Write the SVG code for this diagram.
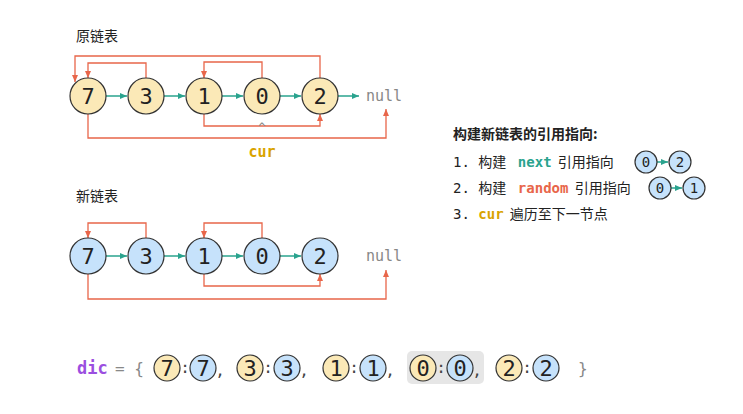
<svg xmlns="http://www.w3.org/2000/svg" width="743" height="414" viewBox="0 0 743 414">
<style>
.t{font-family:"Noto Sans CJK SC","Noto Sans",sans-serif;font-size:14px;fill:#222;white-space:pre}
.m{font-family:"DejaVu Sans Mono",monospace}
.n{font-family:"DejaVu Sans Mono",monospace;font-size:22px;fill:#222;text-anchor:middle;dominant-baseline:central}
.s{font-family:"DejaVu Sans Mono",monospace;font-size:14px;fill:#222;text-anchor:middle;dominant-baseline:central}
.y{fill:#fbe9b7;stroke:#333;stroke-width:1.2}
.b{fill:#c6e2fb;stroke:#333;stroke-width:1.2}
.g{stroke:#2aa38e;stroke-width:1.5;fill:none}
.r{stroke:#e8664a;stroke-width:1.3;fill:none}
</style>
<defs>
<marker id="ag" markerWidth="8" markerHeight="8" refX="7" refY="4" orient="auto" markerUnits="userSpaceOnUse"><path d="M0,1L7,4L0,7z" fill="#2aa38e"/></marker>
<marker id="ar" markerWidth="8" markerHeight="8" refX="7" refY="4" orient="auto" markerUnits="userSpaceOnUse"><path d="M0,1L7,4L0,7z" fill="#e8664a"/></marker>
</defs>
<rect width="743" height="414" fill="#fff"/>
<text class="t" x="76" y="41">原链表</text>
<text class="t" x="76" y="201">新链表</text>
<g id="connectors">
<path class="g" d="M106,96H127" marker-end="url(#ag)"/>
<path class="g" d="M164,96H185" marker-end="url(#ag)"/>
<path class="g" d="M222,96H243" marker-end="url(#ag)"/>
<path class="g" d="M280,96H301" stroke-width="2.5" marker-end="url(#ag)"/>
<path class="g" d="M338,96H359" marker-end="url(#ag)"/>
<path class="r" d="M146,78V63H88V78" marker-end="url(#ar)"/>
<path class="r" d="M320,78V56H75V82" marker-end="url(#ar)"/>
<path class="r" d="M262,78V62H204V78" stroke-width="2.5" marker-end="url(#ar)"/>
<path class="r" d="M204,114V126H320V114" marker-end="url(#ar)"/>
<path class="r" d="M88,114V138H386V109" marker-end="url(#ar)"/>
<path class="g" d="M106,256H127" marker-end="url(#ag)"/>
<path class="g" d="M164,256H185" marker-end="url(#ag)"/>
<path class="g" d="M222,256H243" marker-end="url(#ag)"/>
<path class="g" d="M280,256H301" marker-end="url(#ag)"/>
<path class="r" d="M146,238V223H88V238" marker-end="url(#ar)"/>
<path class="r" d="M262,238V223H204V238" marker-end="url(#ar)"/>
<path class="r" d="M204,274V286H320V274" marker-end="url(#ar)"/>
<path class="r" d="M88,274V299H386V270" marker-end="url(#ar)"/>
<path class="g" d="M657,162H668" marker-end="url(#ag)"/>
<path class="g" d="M671,188H682" marker-end="url(#ag)"/>
</g>
<g id="top">
<circle class="y" cx="88" cy="96" r="18"/><text class="n" x="88" y="96">7</text>
<circle class="y" cx="146" cy="96" r="18"/><text class="n" x="146" y="96">3</text>
<circle class="y" cx="204" cy="96" r="18"/><text class="n" x="204" y="96">1</text>
<circle class="y" cx="262" cy="96" r="18"/><text class="n" x="262" y="96">0</text>
<circle class="y" cx="320" cy="96" r="18"/><text class="n" x="320" y="96">2</text>
<text class="m" x="366" y="101" font-size="15" fill="#888">null</text>
<text class="m" x="262" y="132" font-size="13" fill="#888" text-anchor="middle">^</text>
<text class="m" x="262" y="157" font-size="15" font-weight="bold" fill="#d9a300" text-anchor="middle">cur</text>
</g>
<g id="bottom">
<circle class="b" cx="88" cy="256" r="18"/><text class="n" x="88" y="256">7</text>
<circle class="b" cx="146" cy="256" r="18"/><text class="n" x="146" y="256">3</text>
<circle class="b" cx="204" cy="256" r="18"/><text class="n" x="204" y="256">1</text>
<circle class="b" cx="262" cy="256" r="18"/><text class="n" x="262" y="256">0</text>
<circle class="b" cx="320" cy="256" r="18"/><text class="n" x="320" y="256">2</text>
<text class="m" x="366" y="261" font-size="15" fill="#888">null</text>
</g>
<g id="legend">
<text class="t" x="453" y="139" font-weight="bold">构建新链表的引用指向:</text>
<text class="t" x="453" y="167"><tspan class="m">1. </tspan>构建 <tspan class="m" font-weight="bold" fill="#2aa38e"> next</tspan>  引用指向</text>
<text class="t" x="453" y="193"><tspan class="m">2. </tspan>构建 <tspan class="m" font-weight="bold" fill="#e8664a"> random</tspan>  引用指向</text>
<text class="t" x="453" y="219"><tspan class="m">3. </tspan><tspan class="m" font-weight="bold" fill="#d9a300">cur</tspan>  遍历至下一节点</text>
<circle class="b" cx="646" cy="162" r="11"/><text class="s" x="646" y="162">0</text>
<circle class="b" cx="680" cy="162" r="11"/><text class="s" x="680" y="162">2</text>
<circle class="b" cx="660" cy="188" r="11"/><text class="s" x="660" y="188">0</text>
<circle class="b" cx="694" cy="188" r="11"/><text class="s" x="694" y="188">1</text>
</g>
<g id="dic">
<rect x="407" y="351" width="77" height="33" rx="5" fill="#e6e6e6"/>
<text class="m" x="77" y="374" font-size="17" font-weight="bold" fill="#9b4fe0">dic</text>
<text class="m" x="115" y="374" font-size="16" fill="#888">= {</text>
<text class="m" x="578" y="374" font-size="16" fill="#888">}</text>
<circle class="y" cx="167" cy="368" r="13"/><text class="n" x="167" y="368">7</text>
<circle class="b" cx="203" cy="368" r="13"/><text class="n" x="203" y="368">7</text>
<circle class="y" cx="250" cy="368" r="13"/><text class="n" x="250" y="368">3</text>
<circle class="b" cx="287" cy="368" r="13"/><text class="n" x="287" y="368">3</text>
<circle class="y" cx="336" cy="368" r="13"/><text class="n" x="336" y="368">1</text>
<circle class="b" cx="373" cy="368" r="13"/><text class="n" x="373" y="368">1</text>
<circle class="y" cx="423" cy="368" r="13"/><text class="n" x="423" y="368">0</text>
<circle class="b" cx="460" cy="368" r="13"/><text class="n" x="460" y="368">0</text>
<circle class="y" cx="509" cy="368" r="13"/><text class="n" x="509" y="368">2</text>
<circle class="b" cx="546" cy="368" r="13"/><text class="n" x="546" y="368">2</text>
<g class="m" font-size="16" fill="#444" text-anchor="middle">
<text x="185" y="373">:</text><text x="268" y="373">:</text><text x="354" y="373">:</text><text x="441" y="373">:</text><text x="527" y="373">:</text>
<text x="220" y="376">,</text><text x="304" y="376">,</text><text x="390" y="376">,</text><text x="477" y="376">,</text>
</g>
</g>
</svg>
